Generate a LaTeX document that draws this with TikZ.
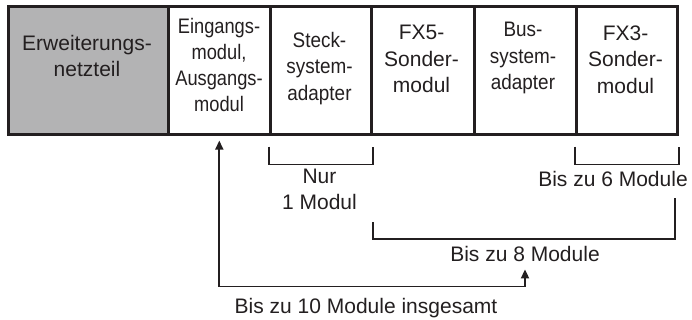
\documentclass[tikz,border=0pt]{standalone}
\usepackage{fontspec}
\setmainfont{Liberation Sans}
\newfontfamily\condA[FakeStretch=0.87]{Liberation Sans}
\newfontfamily\condB[FakeStretch=0.9]{Liberation Sans}
\usetikzlibrary{arrows.meta,calc}
\definecolor{ln}{HTML}{231F20}
\definecolor{gfill}{HTML}{B3B3B4}
\begin{document}
\begin{tikzpicture}[x=1pt,y=-1pt,
  modbox/.style={draw=ln,line width=2.6pt,minimum height=128pt,inner sep=0pt,anchor=north west},
  txt/.style={align=center,inner sep=0pt,font=\fontsize{21}{26.3}\selectfont,text=ln},
  brk/.style={draw=ln,line width=1.8pt},
  arr/.style={draw=ln,line width=1.8pt,{Triangle[length=9pt,width=8pt]}-{Triangle[length=9pt,width=8pt]}}]
\useasboundingbox (0,0) rectangle (692,320);
% module boxes
\node[modbox,fill=gfill,minimum width=160pt] (psu) at (7,5) {};
\node[modbox,minimum width=102pt] (ein) at (167,5) {};
\node[modbox,minimum width=101pt] (steck) at (269,5) {};
\node[modbox,minimum width=103pt] (fx5) at (370,5) {};
\node[modbox,minimum width=102pt] (bus) at (473,5) {};
\node[modbox,minimum width=101pt] (fx3) at (575,5) {};
% box texts
\node[txt] (tpsu) at (87,56) {Erweiterungs-\\netzteil};
\node[txt,font=\fontsize{21}{26.3}\condA] (tein) at (219,65) {Eingangs-\\modul,\\Ausgangs-\\modul};
\node[txt,font=\fontsize{21}{26.3}\condB] (tsteck) at (319.5,68.5) {Steck-\\system-\\adapter};
\node[txt] (tfx5) at (421.5,59) {FX5-\\Sonder-\\modul};
\node[txt,font=\fontsize{21}{26.3}\condB] (tbus) at (523,58) {Bus-\\system-\\adapter};
\node[txt] (tfx3) at (625.5,59.5) {FX3-\\Sonder-\\modul};
% labels
\node[txt] (nur) at (319.5,189.5) {Nur\\1 Modul};
\node[txt,anchor=base] (b6) at (613,187) {Bis zu 6 Module};
\node[txt,anchor=base] (b8) at (525,261) {Bis zu 8 Module};
\node[txt,anchor=base] (b10) at (366,313) {Bis zu 10 Module insgesamt};
% brackets
\draw[brk] ($(steck.south west)+(0,11)$) -- ++(0,18) -| ($(steck.south east)+(0,11)$);
\draw[brk] ($(fx3.south west)+(0,11)$) -- ++(0,18) -| ($(fx3.south east)+(0,11)$);
\coordinate (b8l) at (373,222);
\coordinate (b8r) at (675,198);
\draw[brk] (b8l) -- (373,239) -- (675,239) -- (b8r);
% arrow
\draw[arr] ($(b8.south)+(0,8)$) -- ($(b8.south)+(0,25)$) -| ($(ein.south)+(0,5)$);
\end{tikzpicture}
\end{document}
